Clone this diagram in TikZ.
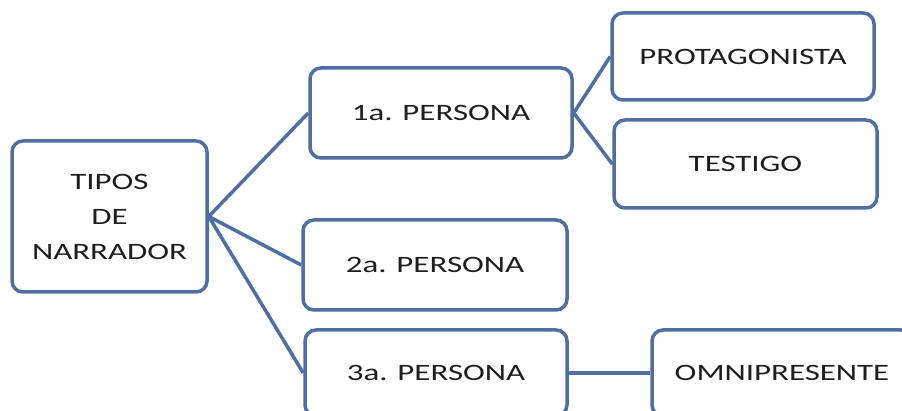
\documentclass[tikz,border=0pt]{standalone}
\usepackage{fontspec}
\setmainfont{Carlito}[FakeStretch=1.4]
\definecolor{boxline}{HTML}{4F6FA0}
\definecolor{txt}{HTML}{1E1E1E}
\begin{document}
\begin{tikzpicture}[x=1pt,y=1pt,
  box/.style={draw=boxline, line width=3.5pt, rounded corners=11pt, fill=white,
    inner sep=0pt, text=txt, font=\fontsize{23.5}{35}\selectfont, align=center},
  conn/.style={draw=boxline, line width=3.5pt}]
\useasboundingbox (0,0) rectangle (902,411);
\clip (0,0) rectangle (902,411);
\node[box, minimum width=195pt, minimum height=151pt] (tipos) at (109.5,194.5) {TIPOS\\DE\\NARRADOR};
\node[box, minimum width=262pt, minimum height=90pt] (p1) at (441,298) {1a. PERSONA};
\node[box, minimum width=262pt, minimum height=87pt] (prot) at (743,354.5) {PROTAGONISTA};
\node[box, minimum width=263pt, minimum height=88pt] (test) at (745.5,247) {TESTIGO};
\node[box, minimum width=264pt, minimum height=90pt] (p2) at (435,146) {2a. PERSONA};
\node[box, minimum width=262pt, minimum height=86pt] (p3) at (436,38) {3a. PERSONA};
\node[box, minimum width=260pt, minimum height=86pt] (omni) at (782,38) {OMNIPRESENTE};
\draw[conn] (tipos.east) -- (p1.west);
\draw[conn] (tipos.east) -- (p2.west);
\draw[conn] (tipos.east) -- (p3.west);
\draw[conn] (p1.east) -- (prot.west);
\draw[conn] (p1.east) -- (test.west);
\draw[conn] (p3.east) -- (omni.west);
\end{tikzpicture}
\end{document}
